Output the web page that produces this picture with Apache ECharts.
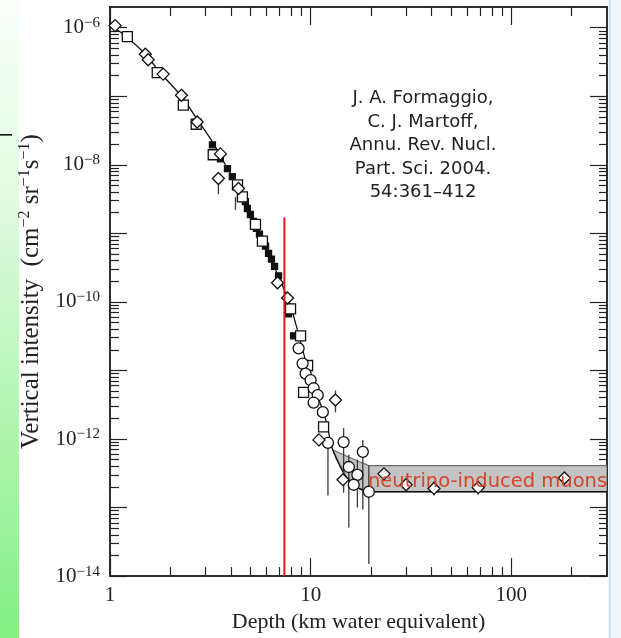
<!DOCTYPE html>
<html>
<head>
<meta charset="utf-8">
<title>Vertical intensity vs depth</title>
<script src="https://cdn.jsdelivr.net/npm/echarts@6/dist/echarts.min.js"></script>
<style>
  html, body { margin: 0; background: #fff; }
  #chart { width: 621px; height: 638px; }
</style>
</head>
<body>
<div id="chart"></div>
<script>
// depth in km water equivalent, intensity in cm^-2 sr^-1 s^-1
var xMax = 300, yMin = 1e-14, yMax = 2e-6;
var xLabelValues = [1, 10, 100];
var yLabelPowers = [-14, -12, -10, -8, -6];

var curveX = [1, 1.22, 1.5, 1.78, 2.29, 2.72, 3.24, 3.76, 4.47, 5.62, 7.08, 7.94, 8.61, 9.44, 10.6, 11.9, 12.9, 15.0, 17.4, 20, 300];
var curveY = [1.1e-6, 7.2e-7, 4.1e-7, 2.2e-7, 9.7e-8, 4.6e-8, 2.15e-8, 1.0e-8, 4.1e-9, 9.0e-10, 2.0e-10, 8.8e-11, 3.8e-11, 1.4e-11, 5.1e-12, 1.9e-12, 6.9e-13, 2.8e-13, 1.9e-13, 1.7e-13, 1.7e-13];

var bandX = [12.9, 15.0, 17.4, 19.5, 300];
var bandLow = [6.9e-13, 2.8e-13, 1.9e-13, 1.7e-13, 1.7e-13];
var bandHigh = [6.9e-13, 5.7e-13, 4.7e-13, 4.1e-13, 4.1e-13];

var diamondX = [1.06, 1.50, 1.55, 1.84, 2.27, 2.72, 3.55, 3.47, 4.37, 6.84, 7.67, 13.3, 11.0, 14.5, 23.2, 29.9, 41.2, 68.4, 184];
var diamondY = [1.07e-6, 4.1e-7, 3.4e-7, 2.1e-7, 1.03e-7, 4.2e-8, 1.44e-8, 6.3e-9, 4.5e-9, 1.9e-10, 1.14e-10, 3.7e-12, 9.7e-13, 2.55e-13, 3.1e-13, 2.15e-13, 1.9e-13, 1.95e-13, 2.7e-13];

var squareX = [1.22, 1.72, 2.32, 2.69, 3.27, 4.32, 4.57, 5.31, 5.75, 7.94, 8.91, 9.66, 9.22, 11.6];
var squareY = [7.4e-7, 2.2e-7, 7.4e-8, 3.9e-8, 1.4e-8, 5.1e-9, 3.4e-9, 1.35e-9, 7.7e-10, 7.9e-11, 3.2e-11, 1.18e-11, 4.8e-12, 1.5e-12];

var circleX = [8.71, 9.12, 9.44, 10.0, 10.35, 10.84, 10.35, 11.5, 12.2, 14.6, 18.2, 15.5, 17.1, 16.4, 19.5];
var circleY = [2.1e-11, 1.26e-11, 9.0e-12, 7.2e-12, 5.5e-12, 4.35e-12, 3.4e-12, 2.46e-12, 8.8e-13, 9.0e-13, 6.5e-13, 3.9e-13, 3.0e-13, 2.15e-13, 1.7e-13];

var filledX = [3.24, 3.55, 3.85, 4.07, 4.73, 4.84, 5.01, 5.19, 5.37, 5.56, 5.75, 5.96, 6.17, 6.38, 6.61, 6.92, 7.76, 8.22];
var filledY = [1.95e-8, 1.22e-8, 8.8e-9, 6.7e-9, 2.9e-9, 2.3e-9, 1.88e-9, 1.49e-9, 1.18e-9, 9.7e-10, 7.9e-10, 6.5e-10, 5.1e-10, 4.2e-10, 3.3e-10, 2.4e-10, 6.7e-11, 3.2e-11];

var errX = [3.47, 4.22, 13.3, 12.2, 14.6, 18.2, 15.5, 17.1, 19.5, 23.2, 29.9, 41.2, 68.4, 184];
var errLo = [3.7e-9, 2.2e-9, 2.45e-12, 1.5e-13, 1.65e-13, 9.4e-14, 5.1e-14, 1.0e-13, 1.5e-14, 2.7e-13, 1.7e-13, 1.5e-13, 1.55e-13, 2.3e-13];
var errHi = [6.3e-9, 3.4e-9, 5.1e-12, 8.8e-13, 1.44e-12, 9.7e-13, 5.9e-13, 5.0e-13, 4.1e-13, 3.6e-13, 2.7e-13, 2.4e-13, 2.45e-13, 3.2e-13];

var cutDepth = 7.4, cutTop = 1.7e-9;   // red vertical line

var lg = Math.log10;
function pairs(xs, ys) {
  return xs.map(function (x, i) { return [lg(x), lg(ys[i])]; });
}

// log tick positions (axes are drawn in log10 space)
var xMajor = xLabelValues.map(lg), xMinor = [];
for (var d = 0; d <= 2; d++) for (var k = 2; k <= 9; k++) {
  if (k * Math.pow(10, d) < xMax) xMinor.push(d + lg(k));
}
var yMajor = [], yMinor = [];
for (var n = -14; n <= -6; n++) {
  yMajor.push(n);
  if (n < -6) for (var k2 = 2; k2 <= 9; k2++) yMinor.push(n + lg(k2));
}

var axisColor = '#222';
var labelRich = {
  b: { fontSize: 21, fontFamily: 'Liberation Serif', color: '#222', lineHeight: 24 },
  s: { fontSize: 15, fontFamily: 'Liberation Serif', color: '#222', lineHeight: 15, verticalAlign: 'top' }
};

function xAxis(pos, ticks, len, labels) {
  return {
    type: 'value', position: pos, min: 0, max: lg(xMax),
    axisLine: { show: true, onZero: false, lineStyle: { color: axisColor, width: 1.5 } },
    axisTick: { show: true, inside: true, length: len, customValues: ticks, lineStyle: { color: axisColor, width: 1.2 } },
    axisLabel: labels ? {
      customValues: xMajor, margin: 9, fontSize: 21, fontFamily: 'Liberation Serif', color: '#222',
      formatter: function (v) { return String(Math.round(Math.pow(10, v))); }
    } : { show: false },
    splitLine: { show: false }
  };
}
function yAxis(pos, ticks, len, labels) {
  return {
    type: 'value', position: pos, min: lg(yMin), max: lg(yMax),
    axisLine: { show: true, onZero: false, lineStyle: { color: axisColor, width: 1.5 } },
    axisTick: { show: true, inside: true, length: len, customValues: ticks, lineStyle: { color: axisColor, width: 1.2 } },
    axisLabel: labels ? {
      customValues: yLabelPowers, margin: 10, rich: labelRich,
      formatter: function (v) { return '{b|10}{s|\u2212' + Math.abs(v) + '}'; }
    } : { show: false },
    splitLine: { show: false }
  };
}

var xa = [xAxis('bottom', xMajor, 18, true), xAxis('bottom', xMinor, 9), xAxis('top', xMajor, 18), xAxis('top', xMinor, 9)];
xa[0].name = 'Depth (km water equivalent)';
xa[0].nameLocation = 'middle';
xa[0].nameGap = 31;
xa[0].nameTextStyle = { fontSize: 22, fontFamily: 'Liberation Serif', color: '#222' };

var ya = [yAxis('left', yMajor, 17, true), yAxis('left', yMinor, 9), yAxis('right', yMajor, 17), yAxis('right', yMinor, 8)];
ya[0].name = '{b|Vertical intensity  (cm}{s|\u22122}{b| sr}{s|\u22121}{b|s}{s|\u22121}{b|)}';
ya[0].nameLocation = 'middle';
ya[0].nameRotate = 90;
ya[0].nameGap = 65;
ya[0].nameTextStyle = {
  rich: {
    b: { fontSize: 25, fontFamily: 'Liberation Serif', color: '#222', lineHeight: 28 },
    s: { fontSize: 16, fontFamily: 'Liberation Serif', color: '#222', lineHeight: 16, verticalAlign: 'top' }
  }
};

function markers(xs, ys, symbol, size, fill) {
  return {
    type: 'scatter', data: pairs(xs, ys), symbol: symbol, symbolSize: size, z: 5,
    itemStyle: { color: fill, borderColor: '#111', borderWidth: 1.3, opacity: 1 }
  };
}

var chart = echarts.init(document.getElementById('chart'));
chart.setOption({
  animation: false,
  backgroundColor: '#fff',
  grid: { left: 110, right: 14, top: 7, bottom: 56 },
  xAxis: xa,
  yAxis: ya,
  graphic: [
    { type: 'rect', left: 0, top: 0, shape: { width: 19, height: 638 }, silent: true,
      style: { fill: new echarts.graphic.LinearGradient(0, 0, 0, 1, [
        { offset: 0, color: '#fbfffb' }, { offset: 0.3, color: '#e2fbe2' }, { offset: 1, color: '#84f084' }]) } },
    { type: 'rect', left: 608, top: 0, shape: { width: 13, height: 638 }, silent: true,
      style: { fill: '#eef6fc' } },
    { type: 'rect', left: 609, top: 0, shape: { width: 1.5, height: 638 }, silent: true,
      style: { fill: '#bfe0f2' } },
    { type: 'rect', left: 0, top: 134, shape: { width: 12, height: 1.6 }, silent: true,
      style: { fill: '#111' } },
    { type: 'text', left: 335, top: 87, silent: true,
      style: { text: 'J. A. Formaggio,\nC. J. Martoff,\nAnnu. Rev. Nucl.\nPart. Sci. 2004.\n54:361\u2013412',
        font: '18px "DejaVu Sans"', fill: '#222', textAlign: 'center', lineHeight: 23.5, width: 176 } },
    { type: 'text', left: 368, top: 472, silent: true, z: 10,
      style: { text: 'neutrino-induced muons', font: '19.5px "DejaVu Sans"', fill: '#d4452a' } }
  ],
  series: [
    {
      type: 'custom', silent: true, z: 1, clip: true,
      data: [[lg(bandX[0]), lg(bandLow[0])]], encode: { x: 0, y: 1 },
      renderItem: function (params, api) {
        var pts = [], i;
        for (i = 0; i < bandX.length; i++) pts.push(api.coord([lg(bandX[i]), lg(bandHigh[i])]));
        for (i = bandX.length - 1; i >= 0; i--) pts.push(api.coord([lg(bandX[i]), lg(bandLow[i])]));
        return { type: 'polygon', shape: { points: pts }, style: { fill: '#c4c4c4', stroke: '#6d6d6d', lineWidth: 1.2 } };
      }
    },
    {
      type: 'line', data: pairs(curveX, curveY), smooth: 0.25, symbol: 'none', z: 3,
      lineStyle: { color: '#111', width: 1.3 }
    },
    {
      type: 'line', data: [[lg(cutDepth), lg(yMin)], [lg(cutDepth), lg(cutTop)]], symbol: 'none', z: 8,
      lineStyle: { color: '#e8141c', width: 2 }
    },
    {
      type: 'custom', silent: true, z: 4,
      data: errX.map(function (x, i) { return [lg(x), lg(errLo[i]), lg(errHi[i])]; }),
      encode: { x: 0, y: [1, 2] },
      renderItem: function (params, api) {
        var a = api.coord([api.value(0), api.value(1)]);
        var b = api.coord([api.value(0), api.value(2)]);
        return { type: 'line', shape: { x1: a[0], y1: a[1], x2: b[0], y2: b[1] }, style: { stroke: '#3a3a3a', lineWidth: 1.3 } };
      }
    },
    markers(filledX, filledY, 'rect', 6, '#111'),
    markers(squareX, squareY, 'rect', 10, '#fff'),
    markers(circleX, circleY, 'circle', 11, '#fff'),
    markers(diamondX, diamondY, 'diamond', 12, '#fff')
  ]
});
</script>
</body>
</html>
